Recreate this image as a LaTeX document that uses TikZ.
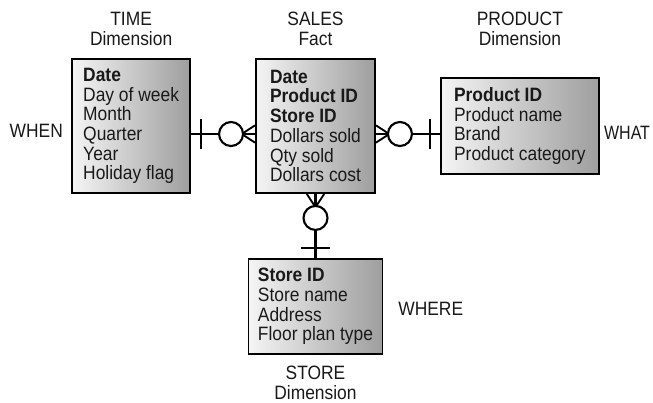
\documentclass[tikz,border=0pt]{standalone}
\usepackage{fontspec}
\setmainfont{Liberation Sans}[FakeStretch=0.9]
\usetikzlibrary{positioning,decorations.markings}

\begin{document}
\begin{tikzpicture}[node distance = 48pt, font=\fontsize{14.5pt}{14.8pt}\selectfont]
	\tikzset{TableStyle/.style = {
			shape=rectangle,
			draw=black,
			line width=1.4pt,
			left color=black!4,
			right color=black!38,
			text=black!90,
			align=left
	}}
	\tikzset{TitleStyle/.style = {
			align=center,
			inner sep=0pt,
			text=black!90
	}}
	\tikzset{RelStyle/.style = {
			draw=black,
			line width=1.8pt,
			postaction={decorate},
			decoration={markings,
				mark=at position 7.5pt with {\draw[line width=1.8pt] (0,-11pt) -- (0,11pt);},
				mark=at position -18pt with {
					\draw[line width=1.4pt] (8pt,0) -- (18pt,6.5pt) (8pt,0) -- (18pt,-6.5pt);
					\draw[line width=1.6pt, fill=white] (0,0) circle (9pt);}
			}
	}}
	\useasboundingbox (-236.6pt,-207pt) rectangle (253.1pt,94.5pt);
	\node[TableStyle, minimum width=89.25pt, minimum height=100.5pt] at (0,0) (1) {\textbf{Date}\\\textbf{Product ID}\\\textbf{Store ID}\\Dollars sold\\Qty sold\\Dollars cost};
	\node[TableStyle, minimum width=88.5pt, minimum height=100.5pt, left=of 1] (2) {\textbf{Date}\\Day of week\\Month\\Quarter\\Year\\Holiday flag};
	\node[TableStyle, minimum width=118.5pt, minimum height=72pt, right=of 1] (3) {\textbf{Product ID}\\Product name\\Brand\\Product category};
	\node[TableStyle, minimum width=100.5pt, minimum height=71.25pt, below=of 1] (4) {\textbf{Store ID}\\Store name\\Address\\Floor plan type};
	
	\node[TitleStyle, above=9pt of 1] (5) {SALES\\Fact};
	\node[TitleStyle, above=9pt of 2] (6) {TIME\\Dimension};
	\node[TitleStyle, anchor=south] at (6.south -| 3) (7) {PRODUCT\\Dimension};
	\node[TitleStyle, below=8pt of 4] (8) {STORE\\Dimension};
	\node[TitleStyle, left=6pt of 2, yshift=-4pt] (9) {WHEN};
	\node[TitleStyle, right=3pt of 3, yshift=-5pt, xscale=0.92] (10) {WHAT};
	\node[TitleStyle, right=11pt of 4, yshift=-2pt] (11) {WHERE};
	
	\path [RelStyle] ([yshift=-6pt]2.east) -- ([yshift=-6pt]1.west);
	\path [RelStyle] ([yshift=-6pt]3.west) -- ([yshift=-6pt]1.east);
	\path [RelStyle] (4.north) -- (1.south);
\end{tikzpicture}
\end{document}
